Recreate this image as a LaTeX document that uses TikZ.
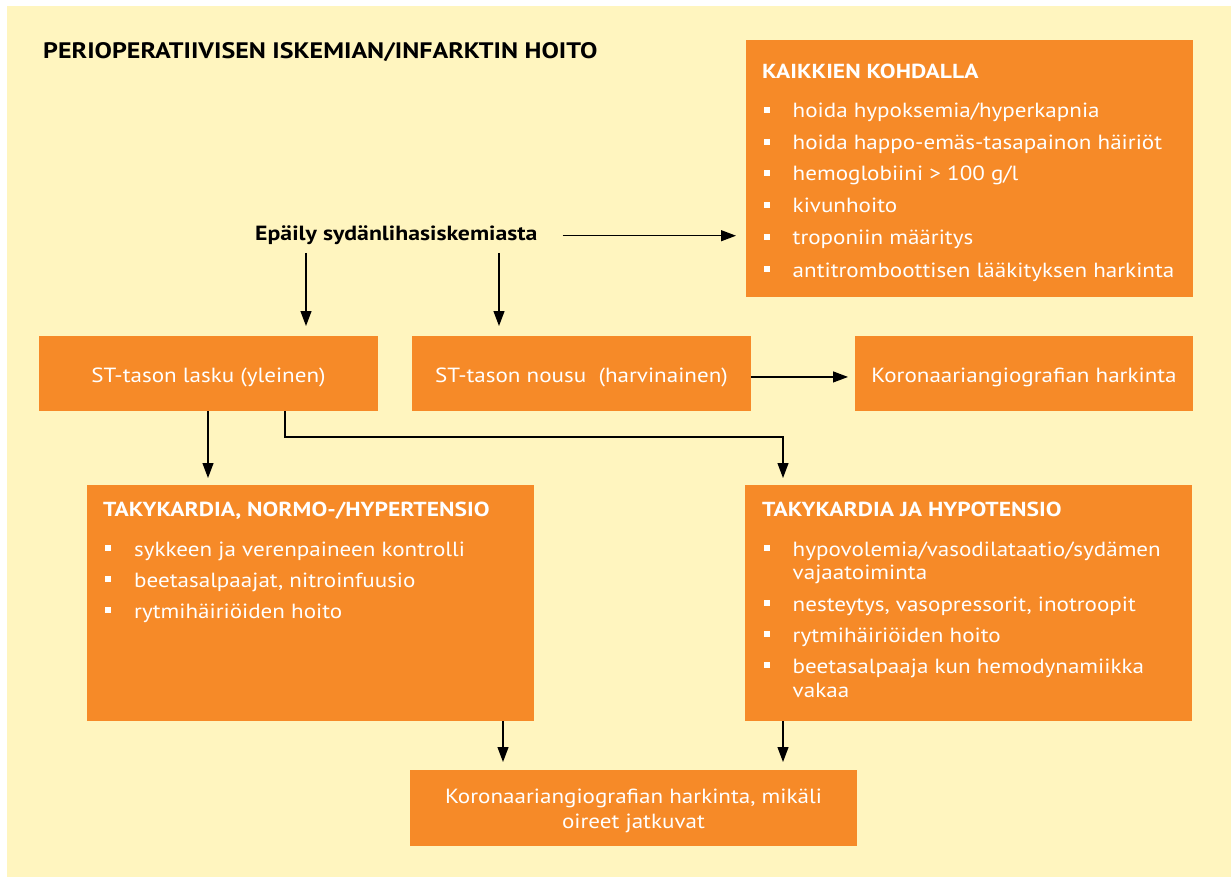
\documentclass[tikz,border=0pt]{standalone}
\usepackage{fontspec}
\setmainfont{PT Sans}[FakeStretch=1.125]
\newfontfamily\bdfam{PT Sans}[FakeStretch=1.16]
\usetikzlibrary{arrows.meta,calc}
\definecolor{bgy}{HTML}{FFF5BF}
\definecolor{org}{HTML}{F68A28}
\tikzset{
 box/.style={fill=org, draw=none, anchor=north west, inner sep=0pt, outer sep=0pt},
 wt/.style={text=white, font=\fontsize{20.5}{24}\selectfont, inner sep=0pt, anchor=base west},
 wh/.style={text=white, font=\bdfam\bfseries\fontsize{20.3}{24}\selectfont, inner sep=0pt, anchor=base west},
 bk/.style={text=black, font=\bdfam\bfseries\fontsize{20.5}{24}\selectfont, inner sep=0pt, anchor=base west},
 bul/.style={fill=white, minimum size=6pt, inner sep=0pt},
 arr/.style={line width=1.2pt, -{Triangle[length=15pt,width=11pt]}},
}
\newcommand\bitem[4]{\node[bul] (#1b) at (#2,#3-8) {};\node[wt] (#1) at (#2+26,#3) {#4};}
\begin{document}
\begin{tikzpicture}[x=1pt,y=-1pt]
\useasboundingbox (0,0) rectangle (1231,877);
\fill[bgy] (7,6) rectangle (1231,877);
% title
\node[font=\bdfam\bfseries\fontsize{22.4}{26}\selectfont, anchor=base west, inner sep=0pt] (title) at (43,59) {PERIOPERATIIVISEN ISKEMIAN/INFARKTIN HOITO};
% boxes
\node[box, minimum width=447pt, minimum height=257pt] (kaikki) at (746,40) {};
\node[box, minimum width=339pt, minimum height=75pt] (lasku) at (39,336) {};
\node[box, minimum width=339pt, minimum height=75pt] (nousu) at (412,336) {};
\node[box, minimum width=338pt, minimum height=75pt] (koro) at (855,336) {};
\node[box, minimum width=447pt, minimum height=236pt] (taky1) at (87,485) {};
\node[box, minimum width=447pt, minimum height=236pt] (taky2) at (745,485) {};
\node[box, minimum width=447pt, minimum height=76pt] (loppu) at (410,770) {};
% kaikkien kohdalla
\node[wh] (kh) at (762,79) {KAIKKIEN KOHDALLA};
\bitem{k1}{766.5}{118}{hoida hypoksemia/hyperkapnia}
\bitem{k2}{766.5}{150}{hoida happo-emäs-tasapainon häiriöt}
\bitem{k3}{766.5}{181}{hemoglobiini > 100 g/l}
\bitem{k4}{766.5}{213}{kivunhoito}
\bitem{k5}{766.5}{245}{troponiin määritys}
\bitem{k6}{766.5}{277}{antitromboottisen lääkityksen harkinta}
% epäily
\node[bk] (epaily) at (255,241) {Epäily sydänlihasiskemiasta};
% ST boxes text
\node[wt, anchor=base] (tl) at (208.5,382) {ST-tason lasku (yleinen)};
\node[wt, anchor=base] (tn) at (581.5,382) {ST-tason nousu\ \ (harvinainen)};
\node[wt, anchor=base] (tk) at (1024,382) {Koronaariangiografian harkinta};
% taky1
\node[wh] (t1h) at (103,516) {TAKYKARDIA, NORMO-/HYPERTENSIO};
\bitem{a1}{108}{556}{sykkeen ja verenpaineen kontrolli}
\bitem{a2}{108}{587}{beetasalpaajat, nitroinfuusio}
\bitem{a3}{108}{618}{rytmihäiriöiden hoito}
% taky2
\node[wh] (t2h) at (762,516) {TAKYKARDIA JA HYPOTENSIO};
\bitem{b1}{766.5}{556}{hypovolemia/vasodilataatio/sydämen}
\node[wt] (b1x) at (792.5,579) {vajaatoiminta};
\bitem{b2}{766.5}{611}{nesteytys, vasopressorit, inotroopit}
\bitem{b3}{766.5}{642}{rytmihäiriöiden hoito}
\bitem{b4}{766.5}{673}{beetasalpaaja kun hemodynamiikka}
\node[wt] (b4x) at (792.5,697) {vakaa};
% bottom text
\node[wt, anchor=base] (l1) at (633.5,803) {Koronaariangiografian harkinta, mikäli};
\node[wt, anchor=base] (l2) at (633.5,828) {oireet jatkuvat};
% connectors
\coordinate (e1) at (306,253);
\coordinate (e2) at (499,253);
\coordinate (s1) at (208,411);
\coordinate (s2) at (285,411);
\coordinate (j1) at (285,437);
\coordinate (j2) at (783,437);
\coordinate (d1) at (503,721);
\coordinate (d2) at (783,721);
\draw[arr, shorten >=10pt] ([xshift=25pt]epaily.east) -- (epaily.east -| kaikki.west);
\draw[arr, shorten >=10pt] (e1) -- (e1 |- lasku.north);
\draw[arr, shorten >=10pt] (e2) -- (e2 |- nousu.north);
\draw[arr, shorten >=7pt] (nousu.east |- tn.center) -- (koro.west |- tn.center);
\draw[arr, shorten >=7pt] (s1) -- (s1 |- taky1.north);
\draw[arr, shorten >=7pt] (s2) -- (j1) -- (j2) -- (j2 |- taky2.north);
\draw[arr, shorten >=8pt] (d1) -- (d1 |- loppu.north);
\draw[arr, shorten >=8pt] (d2) -- (d2 |- loppu.north);
\end{tikzpicture}
\end{document}
